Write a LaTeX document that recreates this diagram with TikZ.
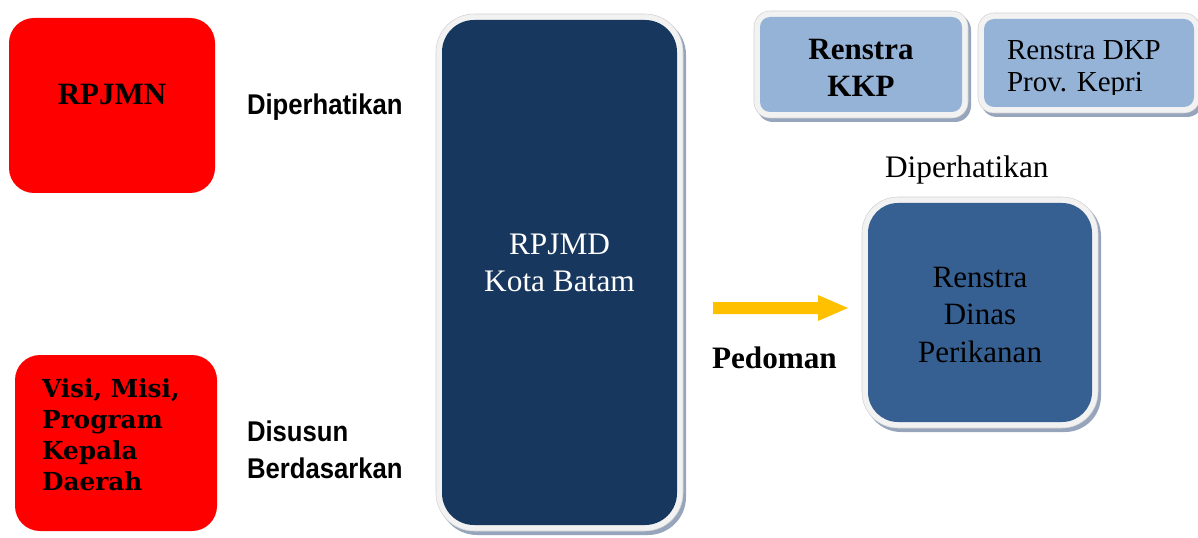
\documentclass[tikz,border=0pt]{standalone}
\usepackage{fontspec}
\setmainfont{Liberation Serif}
\newfontfamily\lsans[FakeStretch=0.9]{Liberation Sans}
\newfontfamily\dvserif{DejaVu Serif}
\usetikzlibrary{calc,backgrounds}
\definecolor{myred}{RGB}{255,0,0}
\definecolor{navy}{RGB}{23,55,94}
\definecolor{midblue}{RGB}{54,96,146}
\definecolor{lightblue}{RGB}{149,179,215}
\definecolor{arrowc}{RGB}{255,192,0}
\definecolor{frameg}{RGB}{242,242,242}
\definecolor{shadowc}{RGB}{150,165,188}
\newcommand\myframe[2]{%
  \fill[shadowc,rounded corners=#2] ($(#1.north west)+(-3,-3)$) rectangle ($(#1.south east)+(9,10)$);
  \filldraw[fill=frameg,draw=gray!35,line width=0.4pt,rounded corners=#2] ($(#1.north west)+(-6,-6)$) rectangle ($(#1.south east)+(6,6)$);
}
\begin{document}
\begin{tikzpicture}[
  x=0.75pt,y=-0.75pt,
  bx/.style 2 args={minimum width=#1*0.75pt,minimum height=#2*0.75pt},
  box/.style={rectangle,inner sep=0pt,outer sep=0pt},
  redbox/.style={box,fill=myred,rounded corners=18.75pt},
  lbl/.style={inner sep=0pt,outer sep=0pt,anchor=base west},
  sanslbl/.style={lbl,font=\lsans\bfseries\fontsize{21.4pt}{27.4pt}\selectfont,align=left},
]
\useasboundingbox (0,0) rectangle (1198,538);

% red boxes
\node[redbox,bx={206}{175}] (rpjmn) at (112,105.5) {};
\node[lbl,anchor=base,font=\bfseries\fontsize{23.25pt}{28pt}\selectfont] (rpjmnT) at (112,105) {RPJMN};
\node[redbox,bx={202}{176}] (visi) at (116,443) {};
\node[lbl,align=left,font=\dvserif\bfseries\fontsize{18.6pt}{23.25pt}\selectfont] (visiT) at (42,490)
  {Visi, Misi,\\Program\\Kepala\\Daerah};

% side labels
\node[sanslbl] (diper1) at (247,115) {Diperhatikan};
\node[sanslbl] (disusun) at (247,478) {Disusun\\Berdasarkan};

% RPJMD
\node[box,fill=navy,rounded corners=24pt,bx={235}{505}] (rpjmd) at (559.5,272.5) {};
\node[lbl,anchor=base,align=center,text=white,font=\fontsize{23.5pt}{27.75pt}\selectfont] (rpjmdT) at (559.5,291)
  {RPJMD\\Kota Batam};

% Renstra KKP
\node[box,fill=lightblue,rounded corners=7.5pt,bx={202}{95}] (kkp) at (861,64.5) {};
\node[lbl,anchor=base,align=center,font=\bfseries\fontsize{23.25pt}{27.75pt}\selectfont] (kkpT) at (861,97)
  {Renstra\\KKP};

% Renstra DKP
\node[box,fill=lightblue,rounded corners=7.5pt,bx={210}{88}] (dkp) at (1089,63) {};
\begin{scope}
\clip (984,19) rectangle (1198,95);
\node[lbl,align=left,font=\fontsize{21.75pt}{24pt}\selectfont] (dkpT) at (1007,92)
  {Renstra DKP\\Prov. Kepri};
\end{scope}

% Diperhatikan (serif)
\node[lbl,font=\fontsize{23.5pt}{28pt}\selectfont] (diper2) at (885,178) {Diperhatikan};

% Renstra Dinas
\node[box,fill=midblue,rounded corners=22.5pt,bx={224}{219}] (dinas) at (980,312.5) {};
\node[lbl,anchor=base,align=center,font=\fontsize{23.25pt}{28.1pt}\selectfont] (dinasT) at (980,362)
  {Renstra\\Dinas\\Perikanan};

% arrow
\coordinate (arrS) at (713,308);
\coordinate (arrE) at (848,308);
\fill[arrowc] ($(arrS)+(0,-6)$) -- ($(arrE)+(-30,-6)$) -- ($(arrE)+(-30,-13)$) -- (arrE)
  -- ($(arrE)+(-30,13)$) -- ($(arrE)+(-30,6)$) -- ($(arrS)+(0,6)$) -- cycle;
\node[lbl,font=\bfseries\fontsize{23.4pt}{28pt}\selectfont] (pedoman) at (712,368) {Pedoman};

\begin{pgfonlayer}{background}
\myframe{rpjmd}{28.5pt}
\myframe{kkp}{12pt}
\myframe{dkp}{12pt}
\myframe{dinas}{27pt}
\end{pgfonlayer}
\end{tikzpicture}
\end{document}
